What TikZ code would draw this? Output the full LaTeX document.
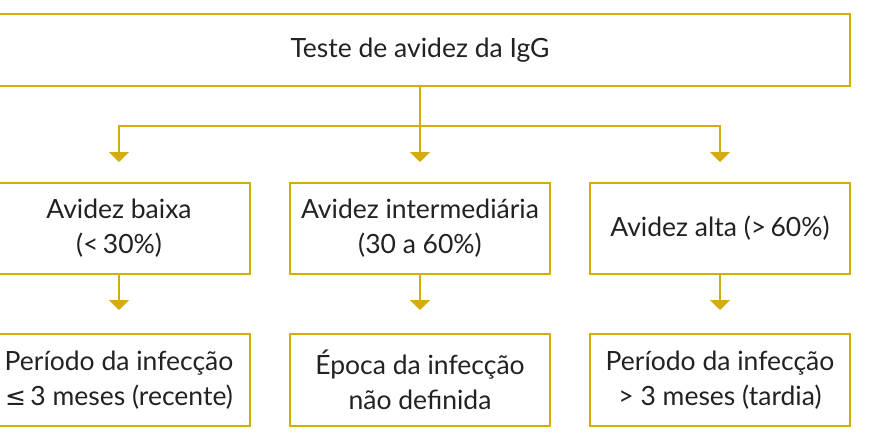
\documentclass[tikz,border=0pt]{standalone}
\usepackage{fontspec}
\setmainfont{Lato}
\usetikzlibrary{arrows.meta}
\definecolor{gold}{RGB}{212,172,13}
\definecolor{ink}{RGB}{34,34,34}
\begin{document}
\begin{tikzpicture}[x=1pt,y=-1pt,
  box/.style={draw=gold, line width=2pt, rectangle, align=center, text=ink,
    font=\fontsize{26.5}{35}\selectfont, inner sep=0pt},
  conn/.style={draw=gold, line width=2pt},
  arr/.style={conn, -{Triangle[width=20pt,length=10pt]}}]
\useasboundingbox (0,0) rectangle (884,436);
\node[box, minimum width=860pt, minimum height=72pt] (top) at (420,50) {Teste de avidez da IgG};
\node[box, minimum width=262pt, minimum height=91pt] (m1) at (119,228.5) {Avidez baixa\\(<\,30\%)};
\node[box, minimum width=260pt, minimum height=91pt] (m2) at (420,228.5) {Avidez intermediária\\(30 a 60\%)};
\node[box, minimum width=260pt, minimum height=91pt] (m3) at (720,228.5) {Avidez alta (>\,60\%)};
\node[box, minimum width=262pt, minimum height=92pt] (b1) at (119,380) {Período da infecção\\{\fontspec{DejaVu Sans}\fontsize{25}{35}\selectfont ≤}\,3 meses (recente)};
\node[box, minimum width=260pt, minimum height=92pt] (b2) at (420,380) {Época da infecção\\não definida};
\node[box, minimum width=260pt, minimum height=92pt] (b3) at (720,380) {Período da infecção\\> 3 meses (tardia)};
\coordinate (j) at (420,126);
\draw[conn] (top.south) -- (j);
\draw[arr] (j) -| ([yshift=20pt]m1.north);
\draw[arr] (j) -- ([yshift=20pt]m2.north);
\draw[arr] (j) -| ([yshift=20pt]m3.north);
\draw[arr] (m1.south) -- ([yshift=23pt]b1.north);
\draw[arr] (m2.south) -- ([yshift=23pt]b2.north);
\draw[arr] (m3.south) -- ([yshift=23pt]b3.north);
\end{tikzpicture}
\end{document}
